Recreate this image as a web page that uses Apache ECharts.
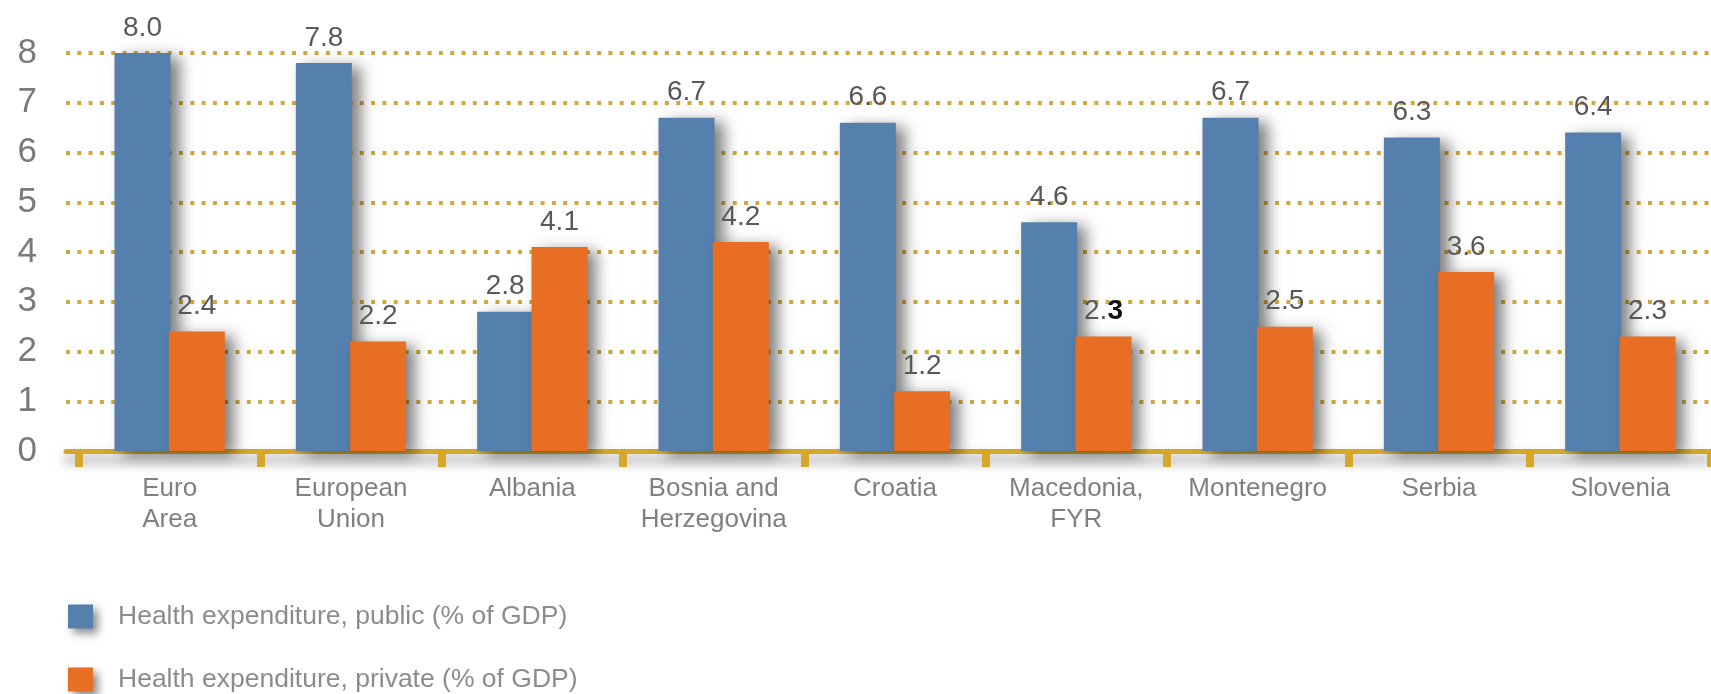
<!DOCTYPE html>
<html>
<head>
<meta charset="utf-8">
<script src="https://cdn.jsdelivr.net/npm/echarts@6/dist/echarts.min.js"></script>
<style>
  html, body { margin: 0; padding: 0; background: #fff; }
  #chart { width: 1711px; height: 694px; }
</style>
</head>
<body>
<div id="chart"></div>
<script>
const categories = ['Euro\nArea', 'European\nUnion', 'Albania', 'Bosnia and\nHerzegovina', 'Croatia', 'Macedonia,\nFYR', 'Montenegro', 'Serbia', 'Slovenia'];
const publicValues = [8.0, 7.8, 2.8, 6.7, 6.6, 4.6, 6.7, 6.3, 6.4];
const privateValues = [2.4, 2.2, 4.1, 4.2, 1.2, 2.3, 2.5, 3.6, 2.3];
const seriesNames = ['Health expenditure, public (% of GDP)', 'Health expenditure, private (% of GDP)'];
const yMin = 0, yMax = 8, yStep = 1;

const FONT = 'Liberation Sans, Arial, sans-serif';
const GOLD = '#D5A82B';
const barShadow = { shadowBlur: 14, shadowOffsetX: 9, shadowOffsetY: 4, shadowColor: 'rgba(0,0,0,0.5)' };

const chart = echarts.init(document.getElementById('chart'), null, { renderer: 'canvas' });

// value labels; the Macedonia private label has a bold last digit in the original
function labelFmt(p) {
  const s = p.value.toFixed(1);
  if (p.seriesIndex === 1 && p.dataIndex === 5) return s.slice(0, -1) + '{b|' + s.slice(-1) + '}';
  return s;
}

// one legend block per series, stacked like the original
function legendRow(name, top) {
  return {
    data: [name],
    left: 68,
    top: top,
    padding: 0,
    icon: 'rect',
    itemWidth: 25,
    itemHeight: 24,
    itemStyle: { shadowBlur: 8, shadowOffsetX: 5, shadowOffsetY: 5, shadowColor: 'rgba(0,0,0,0.45)' },
    textStyle: { fontSize: 26.5, color: '#8c8c8c', fontFamily: FONT, padding: [0, 0, 0, 20] }
  };
}

chart.setOption({
  animation: false,
  textStyle: { fontFamily: FONT },
  grid: [
    { left: 66, right: -17, top: 53, bottom: 243 },
    { left: 79, right: -17, top: 53, bottom: 243 }
  ],
  legend: [legendRow(seriesNames[0], 603), legendRow(seriesNames[1], 666)],
  xAxis: [
    {
      gridIndex: 0,
      type: 'category',
      data: categories,
      axisLine: { lineStyle: { color: GOLD, width: 5, shadowBlur: 12, shadowOffsetY: 8, shadowColor: 'rgba(0,0,0,0.45)' } },
      axisTick: { show: false },
      axisLabel: { show: false }
    },
    {
      gridIndex: 1,
      type: 'category',
      data: categories,
      axisLine: { show: false },
      axisTick: { show: true, length: 16, lineStyle: { color: GOLD, width: 8 } },
      axisLabel: { fontSize: 26, color: '#808080', lineHeight: 31, margin: 22, interval: 0, fontFamily: FONT }
    }
  ],
  yAxis: [
    {
      gridIndex: 0,
      type: 'value',
      min: yMin,
      max: yMax,
      interval: yStep,
      axisLine: { show: false },
      axisTick: { show: false },
      axisLabel: { fontSize: 35, color: '#7a7a7a', margin: 29, fontFamily: FONT },
      splitLine: { lineStyle: { color: '#CFA93F', width: 4, type: [4, 7.3] } }
    },
    { gridIndex: 1, type: 'value', min: yMin, max: yMax, interval: yStep, show: false }
  ],
  series: [
    {
      name: seriesNames[0],
      type: 'bar',
      xAxisIndex: 1,
      yAxisIndex: 1,
      data: publicValues,
      barWidth: 56,
      barGap: '-3%',
      itemStyle: Object.assign({ color: '#5580AD' }, barShadow),
      label: { show: true, position: 'top', distance: 11, fontSize: 28, color: '#595959', formatter: labelFmt }
    },
    {
      name: seriesNames[1],
      type: 'bar',
      xAxisIndex: 1,
      yAxisIndex: 1,
      data: privateValues,
      barWidth: 56,
      itemStyle: Object.assign({ color: '#E86E24' }, barShadow),
      label: {
        show: true, position: 'top', distance: 11, fontSize: 28, color: '#595959', formatter: labelFmt,
        rich: { b: { fontSize: 28, fontWeight: 'bold', color: '#111' } }
      }
    }
  ]
});
</script>
</body>
</html>
